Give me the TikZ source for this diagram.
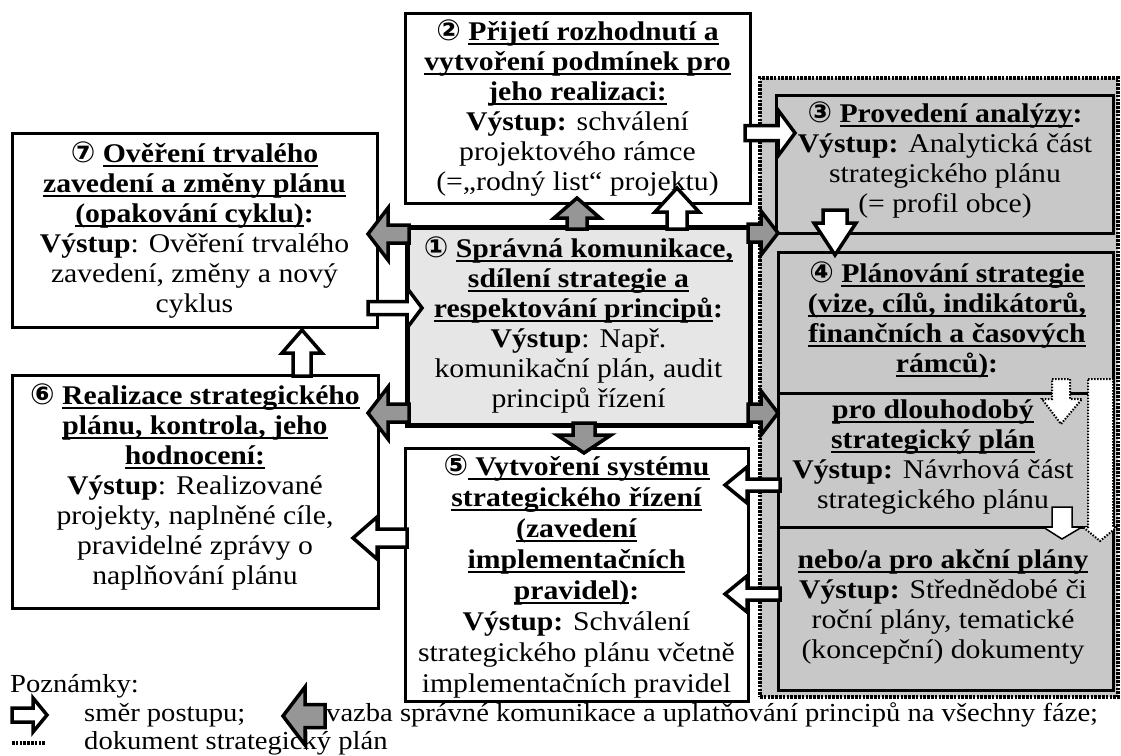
\documentclass[tikz,border=0pt]{standalone}
\usepackage{fontspec}
\setmainfont{Liberation Serif}[FakeStretch=1.1]
\newfontfamily\circfont{DejaVu Sans}
\newsavebox\hdbox
\newcommand\hd[1]{\sbox\hdbox{\textbf{#1}}\rlap{\rule[-4.5pt]{\wd\hdbox}{1.8pt}}\usebox\hdbox}
\newcommand\cnum[1]{{\circfont\bfseries\fontsize{29}{30}\selectfont #1}}
\newcommand\Vys{\textbf{Výstup}}
\definecolor{frfill}{RGB}{200,200,200}
\definecolor{onefill}{RGB}{230,230,230}
\definecolor{arrgray}{RGB}{150,150,150}
\newcommand\blockarrow[6]{%
 \pgfpointanchor{#2}{center}\pgfgetlastxy{\bax}{\bay}%
 \pgfpointanchor{#3}{center}\pgfgetlastxy{\bbx}{\bby}%
 \pgfmathsetmacro\baAng{atan2((\bby)-(\bay),(\bbx)-(\bax))}%
 \pgfmathsetmacro\baLen{veclen((\bbx)-(\bax),(\bby)-(\bay))}%
 \begin{scope}[shift={(#2)},rotate=\baAng]
 \filldraw[#1] (0pt,-#4pt) -- ({\baLen pt-#6pt},-#4pt) -- ({\baLen pt-#6pt},-#5pt)
   -- (\baLen pt,0pt) -- ({\baLen pt-#6pt},#5pt) -- ({\baLen pt-#6pt},#4pt) -- (0pt,#4pt) -- cycle;
 \end{scope}}
\tikzset{
 box/.style={draw=black, line width=3pt, fill=white, inner sep=0pt},
 gbox/.style={box, fill=frfill},
 onebox/.style={box, fill=onefill, line width=5pt},
 frame/.style={draw=black, fill=frfill, line width=4pt, dash pattern=on 2.6pt off 1.2pt, inner sep=0pt},
 txt/.style={align=center, font=\fontsize{27}{30}\selectfont, inner sep=0pt},
 leg/.style={anchor=west, font=\fontsize{26}{28}\selectfont, inner sep=0pt},
 warr/.style={fill=white, draw=black, line width=3.5pt},
 garr/.style={fill=arrgray, draw=black, line width=3.5pt},
 dotarr/.style={fill=white, draw=black, line width=2pt, dash pattern=on 1.5pt off 1.5pt},
 divl/.style={draw=black, line width=3pt}
}
\begin{document}
\begin{tikzpicture}[x=1pt,y=-1pt]
\useasboundingbox (0,0) rectangle (1121,755);
% document frame (strategic plan)
\node[frame, minimum width=358pt, minimum height=619pt] (fr) at (939,387.5) {};
\node[gbox, minimum width=337pt, minimum height=138pt] (b3) at (944.5,164) {};
\node[gbox, minimum width=335pt, minimum height=438pt] (b4) at (945.5,471) {};
\draw[divl] (778,393) -- (1113,393);
\draw[divl] (778,527) -- (1113,527);
\draw[dotarr] (1088,379) -- (1113,379) -- (1113,527) -- (1117,527) -- (1100,541) -- (1083,527) -- (1088,527) -- cycle;
\draw[dotarr] (1052,379) -- (1070,379) -- (1070,399) -- (1082,399) -- (1061,424) -- (1042,399) -- (1052,399) -- cycle;
\draw[fill=white, draw=black, line width=1.5pt] (1052,507) -- (1072,507) -- (1072,527) -- (1082,527) -- (1062,539) -- (1043,527) -- (1052,527) -- cycle;
% boxes
\node[box, minimum width=345pt, minimum height=190pt] (b2) at (577.5,108) {};
\node[box, minimum width=365pt, minimum height=194pt] (b7) at (194.5,230) {};
\node[onebox, minimum width=343pt, minimum height=198pt] (b1) at (578.5,326) {};
\node[box, minimum width=366pt, minimum height=233pt] (b6) at (195,491.5) {};
\node[box, minimum width=343pt, minimum height=253pt] (b5) at (576.5,574.5) {};
% texts
\node[txt] (t2) at (577.5,108) {\cnum{②} \hd{Přijetí rozhodnutí a}\\
\hd{vytvoření podmínek pro}\\
\hd{jeho realizaci:}\\
\Vys\textbf{:} schválení\\
projektového rámce\\
(=„rodný list“ projektu)};
\node[txt] (t7) at (194.5,230) {\cnum{⑦} \hd{Ověření trvalého}\\
\hd{zavedení a změny plánu}\\
\hd{(opakování cyklu)}\textbf{:}\\
\Vys: Ověření trvalého\\
zavedení, změny a nový\\
cyklus};
\node[txt] (t1) at (578.5,325) {\cnum{①} \hd{Správná komunikace,}\\
\hd{sdílení strategie a}\\
\hd{respektování principů}\textbf{:}\\
\Vys: Např.\\
komunikační plán, audit\\
principů řízení};
\node[txt] (t3) at (945,160) {\cnum{③} \hd{Provedení analýzy}\textbf{:}\\
\Vys\textbf{:} Analytická část\\
strategického plánu\\
(= profil obce)};
\node[txt] (t4a) at (947,320) {\cnum{④} \hd{Plánování strategie}\\
\hd{(vize, cílů, indikátorů,}\\
\hd{finančních a časových}\\
\hd{rámců)}\textbf{:}};
\node[txt] (t4b) at (933,457) {\hd{pro dlouhodobý}\\
\hd{strategický plán}\\
\Vys\textbf{:} Návrhová část\\
strategického plánu};
\node[txt] (t4c) at (943,607) {\hd{nebo/a pro akční plány}\\
\Vys\textbf{:} Střednědobé či\\
roční plány, tematické\\
(koncepční) dokumenty};
\node[txt, font=\fontsize{27}{31}\selectfont] (t5) at (576.5,576) {\cnum{⑤}\hd{\ Vytvoření systému}\\
\hd{strategického řízení}\\
\hd{(zavedení}\\
\hd{implementačních}\\
\hd{pravidel)}\textbf{:}\\
\Vys\textbf{:} Schválení\\
strategického plánu včetně\\
implementačních pravidel};
\node[txt] (t6) at (195,487) {\cnum{⑥} \hd{Realizace strategického}\\
\hd{plánu, kontrola, jeho}\\
\hd{hodnocení:}\\
\Vys: Realizované\\
projekty, naplněné cíle,\\
pravidelné zprávy o\\
naplňování plánu};
% connector end points
\coordinate (g12t) at (577,229); \coordinate (g12h) at (577,198);
\coordinate (w12t) at (677,229); \coordinate (w12h) at (677,188);
\coordinate (g17t) at (409,234); \coordinate (g17h) at (368,234);
\coordinate (g16t) at (409,413); \coordinate (g16h) at (368,413);
\coordinate (g13t) at (748,233); \coordinate (g13h) at (778,233);
\coordinate (g14t) at (748,413); \coordinate (g14h) at (778,413);
\coordinate (g15t) at (584,423); \coordinate (g15h) at (584,453);
\coordinate (w71t) at (368,308); \coordinate (w71h) at (422,308);
\coordinate (w67t) at (302,376); \coordinate (w67h) at (302,330);
\coordinate (w56t) at (407,538); \coordinate (w56h) at (353,538);
\coordinate (w23t) at (745,133); \coordinate (w23h) at (795,133);
\coordinate (w34t) at (835,210); \coordinate (w34h) at (835,255);
\coordinate (w45at) at (780,485); \coordinate (w45ah) at (725,485);
\coordinate (w45bt) at (780,594); \coordinate (w45bh) at (725,594);
% connectors
\blockarrow{garr}{g12t}{g12h}{10}{23}{20}
\blockarrow{warr}{w12t}{w12h}{10}{22}{24}
\blockarrow{garr}{g17t}{g17h}{9}{26}{20}
\blockarrow{garr}{g16t}{g16h}{9}{26}{20}
\blockarrow{garr}{g13t}{g13h}{9}{22}{17}
\blockarrow{garr}{g14t}{g14h}{9}{22}{17}
\blockarrow{garr}{g15t}{g15h}{11}{27}{18}
\blockarrow{warr}{w71t}{w71h}{6.5}{20}{15}
\blockarrow{warr}{w67t}{w67h}{9}{20}{23}
\blockarrow{warr}{w56t}{w56h}{9}{21}{24}
\blockarrow{warr}{w23t}{w23h}{7.5}{23}{17}
\blockarrow{warr}{w34t}{w34h}{12}{21}{32}
\blockarrow{warr}{w45at}{w45ah}{6}{18}{22}
\blockarrow{warr}{w45bt}{w45bh}{6}{18}{22}
% legend
\node[leg] (lp) at (10,686) {Poznámky:};
\coordinate (lwt) at (12,715); \coordinate (lwh) at (47,715);
\blockarrow{warr}{lwt}{lwh}{7}{17}{14}
\node[leg] (l1) at (84,715) {směr postupu;};
\coordinate (lgt) at (325,716); \coordinate (lgh) at (283,716);
\blockarrow{garr}{lgt}{lgh}{11.5}{29}{22}
\node[leg] (l2) at (326,715) {vazba správné komunikace a uplatňování principů na všechny fáze;};
\coordinate (ldA) at (12,743); \coordinate (ldB) at (45,743);
\draw[line width=4pt, dash pattern=on 2.6pt off 1.2pt] (ldA) -- (ldB);
\node[leg] (l3) at (84,743) {dokument strategický plán};
\end{tikzpicture}
\end{document}
